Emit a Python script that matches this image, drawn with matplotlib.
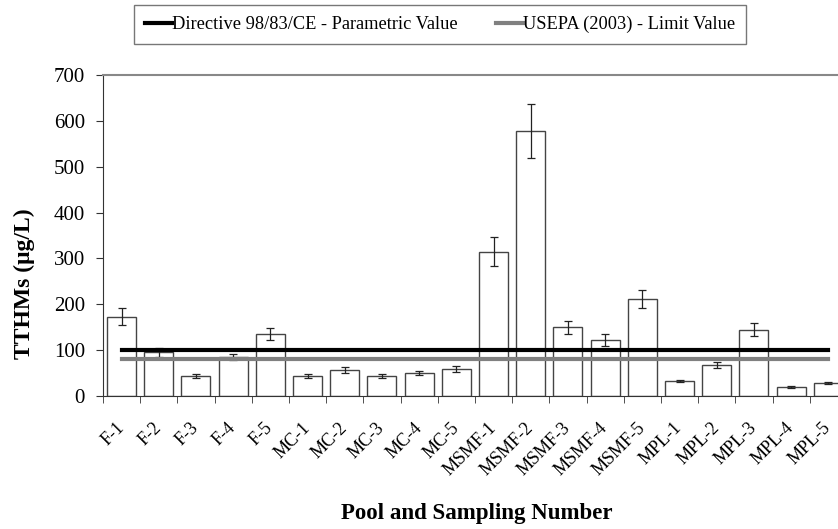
from matplotlib import pyplot as plt
import numpy as np

# Data
samples = ['F-1', 'F-2', 'F-3', 'F-4', 'F-5',
           'MC-1', 'MC-2', 'MC-3', 'MC-4', 'MC-5',
           'MSMF-1', 'MSMF-2', 'MSMF-3', 'MSMF-4', 'MSMF-5',
           'MPL-1', 'MPL-2', 'MPL-3', 'MPL-4', 'MPL-5']
tthm = [173, 95, 44, 85, 135,
        44, 57, 44, 50, 59,
        315, 578, 150, 123, 211,
        33, 67, 145, 20, 29]
tthm_err = [18, 10, 4, 7, 13,
            4, 6, 5, 5, 7,
            32, 59, 14, 13, 20,
            3, 7, 15, 2, 2]
directive_value = 100
usepa_value = 80

#--------------------------------------------------------------------------------------------------
def plot_tthms(output_fname='out.png'):
    plt.rcParams['font.family'] = ['Liberation Serif', 'DejaVu Serif']

    fig = plt.figure(figsize=(8.38, 5.29), dpi=100)
    ax = fig.add_axes([0.1229, 0.2514, 0.8878, 0.6068])

    x = np.arange(len(samples))
    ax.bar(x, tthm, width=0.78, color='white', edgecolor='#444444', linewidth=1.0, zorder=2)
    ax.errorbar(x, tthm, yerr=tthm_err, fmt='none', ecolor='#222222', elinewidth=0.9,
                capsize=3, capthick=0.9, zorder=3)

    # Guide lines across the samples
    ax.plot([x[0], x[-1]], [directive_value]*2, color='black', linewidth=3,
            label='Directive 98/83/CE - Parametric Value', zorder=4)
    ax.plot([x[0], x[-1]], [usepa_value]*2, color='#808080', linewidth=3,
            label='USEPA (2003) - Limit Value', zorder=4)

    ax.set_xlim(-0.5, len(samples) - 0.5)
    ax.set_ylim(0, 700)
    ax.set_yticks(np.arange(0, 701, 100))
    ax.set_xticks(x)
    ax.set_xticklabels(samples, rotation=45, ha='right', va='center', rotation_mode='anchor',
                       fontsize=13)
    ax.set_xticks(np.arange(-0.5, len(samples), 1.0), minor=True)
    ax.tick_params(axis='x', which='major', length=0, pad=21)
    ax.tick_params(axis='x', which='minor', length=5, direction='out', color='#333333')
    ax.tick_params(axis='y', labelsize=15, length=5, direction='out', color='#333333', pad=8)

    for side in ['left', 'bottom']:
        ax.spines[side].set_color('#333333')
    ax.spines['top'].set_color('#888888')
    ax.spines['top'].set_linewidth(1.5)
    ax.spines['right'].set_visible(False)

    ax.set_ylabel('TTHMs (\u03bcg/L)', fontsize=17, fontweight='bold')
    ax.yaxis.set_label_coords(35/838, (529-284)/529, transform=fig.transFigure)
    ax.set_xlabel('Pool and Sampling Number', fontsize=16.5, fontweight='bold')
    ax.xaxis.set_label_coords(477/838, (529-513)/529, transform=fig.transFigure)
    ax.xaxis.label.set_va('center')

    fig.legend(loc='upper center', bbox_to_anchor=(440/838, 1 - 5/529), ncol=2, fontsize=13.2,
               frameon=True, fancybox=False, edgecolor='#555555', handlelength=1.45,
               handletextpad=0.0, columnspacing=2.1, borderpad=0.6, borderaxespad=0.0)

    plt.savefig(output_fname)
#--------------------------------------------------------------------------------------------------

if __name__ == '__main__':
    plot_tthms()
